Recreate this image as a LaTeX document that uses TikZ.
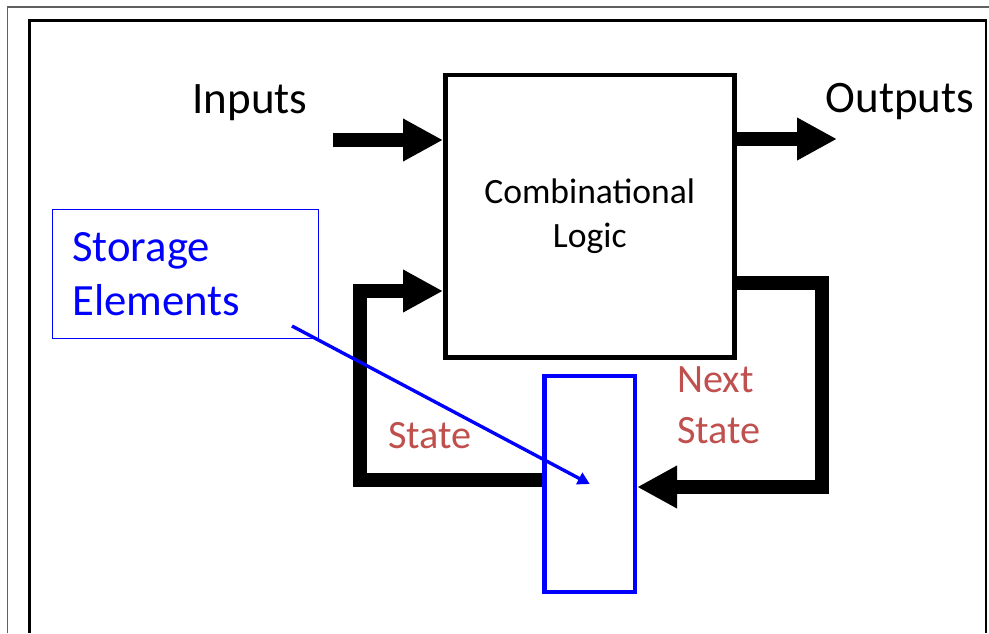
\documentclass[tikz,border=0pt]{standalone}
\usepackage{fontspec}
\setmainfont{Carlito}
\usetikzlibrary{arrows.meta, calc, positioning}
\definecolor{statered}{RGB}{192,80,77}
\definecolor{framegray}{RGB}{96,96,96}

\begin{document}
\begin{tikzpicture}[x=0.025cm,y=-0.025cm,align=center]
\tikzstyle{block}=[rectangle,draw=black,line width=3.5pt,inner sep=0pt,
  minimum width=7.2125cm,minimum height=7.0625cm,
  font=\fontsize{25.3pt}{31.3pt}\selectfont]
\tikzstyle{storebox}=[rectangle,draw=blue,line width=3pt,
  minimum width=2.2625cm,minimum height=5.4cm]
\tikzstyle{notebox}=[rectangle,draw=blue,line width=0.7pt,
  minimum width=6.625cm,minimum height=3.2cm]
\tikzstyle{bigarrow}=[-{Triangle[length=28.4pt,width=28.4pt]},line width=9.3pt]
\tikzstyle{pointer}=[-{Triangle[length=8.5pt,width=9pt]},draw=blue,line width=2.4pt]
\tikzstyle{iolabel}=[inner sep=0pt,anchor=base,font=\fontsize{32pt}{36pt}\selectfont]
\tikzstyle{statelabel}=[inner sep=0pt,text=statered,
  font=\fontsize{28.6pt}{35.6pt}\selectfont]

\useasboundingbox (0,0) rectangle (989,633);

% frames
\draw[framegray,line width=1.1pt] (7.5,633) -- (7.5,7) -- (989,7);
\draw[line width=1.8pt] (29.5,633) -- (29.5,20.5) -- (986,20.5) -- (986,633);

% boxes
\node[block] (logic) at (589.75,216.25) {Combinational\\Logic};
\node[storebox] (store) at (589.75,484) {};
\node[notebox] (note) at (185.5,274) {};

% labels
\node[iolabel] (inputs) at (250,113) {Inputs};
\node[iolabel] (outputs) at (900,112) {Outputs};
\node[inner sep=0pt,anchor=base west,align=left,text=blue,
  font=\fontsize{31.8pt}{37.7pt}\selectfont] (notetext) at (72,315) {Storage\\Elements};
\node[statelabel,anchor=base] (state) at (430,448) {State};
\node[statelabel,anchor=base west,align=left] (nextstate) at (677,443) {Next\\State};

% connectors
\coordinate (intail) at (333,140);
\coordinate (outtip) at (837,139);
\coordinate (nsturn) at (822,283);
\coordinate (nsin) at (822,487);
\coordinate (stturn) at (360,480);
\coordinate (stup) at (360,291);
\coordinate (ptail) at (292,326);

\draw[bigarrow] (intail) -- (intail -| logic.west);
\draw[bigarrow] (outtip -| logic.east) -- (outtip);
\draw[bigarrow] (nsturn -| logic.east) -| (nsin) -- (nsin -| store.east);
\draw[bigarrow] (stturn -| store.west) -| (stup) -- (stup -| logic.west);
\draw[pointer] (ptail) -- (store.center);
\end{tikzpicture}
\end{document}
